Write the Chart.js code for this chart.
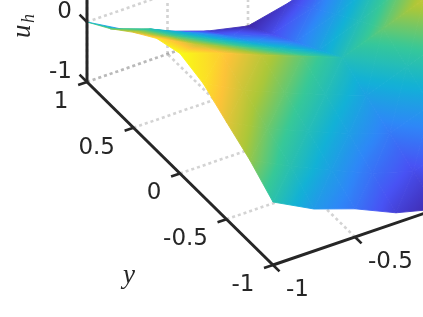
<!DOCTYPE html>
<html><head><meta charset="utf-8">
<style>html,body{margin:0;padding:0;background:#fff}canvas{display:block}</style>
<script src="https://cdn.jsdelivr.net/npm/chart.js@4/dist/chart.umd.js"></script>
</head><body><canvas id="c" width="423" height="317"></canvas>
<script>
const xNodes = [-1,-0.75,-0.5,-0.25,0,0.25,0.5,0.75,1];
const yNodes = [1,0.75,0.5,0.25,0,-0.25,-0.5,-0.75,-1];
const zY1   = [0,-0.37,-0.62,-0.85,-1,-0.85,-0.62,-0.37,0];
const zY075 = [0.27,0.03,-0.27,-0.55,-0.75,-0.55,-0.27,0.03,0.27];
const zY05  = [0.59,0.28,0,-0.27,-0.5,-0.27,0,0.28,0.59];
const zY025 = [0.87,0.53,0.26,0,-0.25,0,0.26,0.53,0.87];
const zY0   = [1,0.77,0.5,0.25,0,0.25,0.5,0.77,1];
const zYm025= [0.88,0.53,0.26,0,-0.25,0,0.26,0.53,0.88];
const zYm05 = [0.62,0.28,0,-0.27,-0.5,-0.27,0,0.28,0.62];
const zYm075= [0.37,0.03,-0.27,-0.55,-0.75,-0.55,-0.27,0.03,0.37];
const zYm1  = [0.05,-0.3,-0.53,-0.83,-1,-0.85,-0.6,-0.35,0];
const zRows = [zY1,zY075,zY05,zY025,zY0,zYm025,zYm05,zYm075,zYm1];
const xTicks = [-1,-0.5,0,0.5,1];
const yTicks = [-1,-0.5,0,0.5,1];
const zTicks = [-1,0,1];
const xTickLabels = ['-1','-0.5'];
const yTickLabels = ['-1','-0.5','0','0.5','1'];
const zTickLabels = ['-1','0'];
const palette = [[62,38,168],[72,82,244],[46,135,247],[18,177,214],[55,200,151],[171,199,56],[254,195,56],[249,251,21]];

// Orthographic-like 3D view mapped to the plot-space scales
function project(x,y,z){
  const dx=x+1, dy=y+1, dz=z+1;
  return {x:273+dx*(164-1.5*dy)-93*dy, y:265-56*dx-91.5*dy-60*dz};
}
function cmap(z){
  const t=Math.max(0,Math.min(1,(z+1)/2))*(palette.length-1);
  const i=Math.min(palette.length-2,Math.floor(t)), f=t-i;
  const c=palette[i].map((v,k)=>Math.round(v+(palette[i+1][k]-v)*f));
  return `rgb(${c[0]},${c[1]},${c[2]})`;
}
function triPaint(tri){
  let cache=null;
  return (ctx)=>{
    if(cache) return cache;
    const chart=ctx.chart, sx=chart.scales.x, sy=chart.scales.y;
    const fallback=cmap(tri[0].z);
    if(!sx||!sy||!chart.chartArea) return fallback;
    const p=tri.map(v=>{const q=project(v.x,v.y,v.z);return {px:sx.getPixelForValue(q.x),py:sy.getPixelForValue(q.y),z:v.z};});
    if(!p.every(q=>Number.isFinite(q.px)&&Number.isFinite(q.py))) return fallback;
    const ux=p[1].px-p[0].px, uy=p[1].py-p[0].py, vx=p[2].px-p[0].px, vy=p[2].py-p[0].py;
    const dz1=p[1].z-p[0].z, dz2=p[2].z-p[0].z, det=ux*vy-uy*vx;
    const lo=p.reduce((a,b)=>b.z<a.z?b:a), hi=p.reduce((a,b)=>b.z>a.z?b:a);
    if(Math.abs(det)<1e-6 || hi.z-lo.z<1e-6){cache=cmap((lo.z+hi.z)/2);return cache;}
    const a=(dz1*vy-dz2*uy)/det, b=(ux*dz2-vx*dz1)/det, n=a*a+b*b, range=hi.z-lo.z;
    const g=chart.ctx.createLinearGradient(lo.px,lo.py,lo.px+a*range/n,lo.py+b*range/n);
    for(let k=0;k<=12;k++) g.addColorStop(k/12,cmap(lo.z+range*k/12));
    cache=g;return g;
  };
}
const datasets=[];
function poly(pts,opts){datasets.push(Object.assign({data:pts.map(p=>project(p[0],p[1],p[2])),showLine:true,pointRadius:0,tension:0,fill:false,borderCapStyle:'butt'},opts));}
const GRID={borderColor:'rgba(150,150,150,0.42)',borderWidth:2.6,borderDash:[3,3],order:2000};
const bottom=-1;
// floor and back-wall grid lines
yTicks.slice(1).forEach(y=>poly([[-1,y,bottom],[1,y,bottom]],GRID));
xTicks.slice(1).forEach(x=>poly([[x,-1,bottom],[x,1,bottom]],GRID));
xTicks.forEach(x=>poly([[x,1,bottom],[x,1,1]],Object.assign({},GRID,{order:2001})));
zTicks.forEach(z=>poly([[-1,1,z],[1,1,z]],Object.assign({},GRID,{order:2001})));
// surface
for(let r=0;r<yNodes.length-1;r++)for(let c=0;c<xNodes.length-1;c++){
  const v=(i,j)=>({x:xNodes[j],y:yNodes[i],z:zRows[i][j]});
  const a=v(r,c),b=v(r,c+1),d=v(r+1,c),e=v(r+1,c+1);
  [[a,b,d],[b,e,d]].forEach(t=>{
    const paint=triPaint(t);
    const depth=t.reduce((s,q)=>s+q.x+q.y,0)/3;
    poly([...t,t[0]].map(q=>[q.x,q.y,q.z]),{fill:'shape',backgroundColor:paint,borderColor:paint,borderWidth:0.9,order:500+Math.round(depth*100)});
  });
}
// axes
const AX={borderColor:'#262626',borderWidth:3,order:1};
const TK={borderColor:'#262626',borderWidth:2.6,order:1};
poly([[-1,1,-1],[-1,1,1]],AX);
poly([[-1,1,-1],[-1,-1,-1]],AX);
poly([[-1,-1,-1],[1,-1,-1]],AX);
yTicks.forEach(y=>poly([[-1,y,-1],[-1.055,y,-1]],TK));
xTicks.forEach(x=>poly([[x,-1,-1],[x,-1.07,-1]],TK));
zTicks.forEach(z=>poly([[-1,1,z],[-1,1.08,z]],TK));

const textPlugin={id:'axisText',afterDraw(chart){
  const c=chart.ctx,sx=chart.scales.x,sy=chart.scales.y;
  const at=(x,y,z)=>{const q=project(x,y,z);return [sx.getPixelForValue(q.x),sy.getPixelForValue(q.y)];};
  c.save();
  c.fillStyle='#262626';c.font='23px "DejaVu Sans"';c.textBaseline='middle';
  c.textAlign='right';
  yTickLabels.forEach(s=>{const [a,b]=at(-1,+s,-1);c.fillText(s,a-18.5,b+20);});
  zTickLabels.forEach(s=>{const [a,b]=at(-1,1,+s);c.fillText(s,a-15,b-10);});
  c.textAlign='left';
  xTickLabels.forEach(s=>{const [a,b]=at(+s,-1,-1);c.fillText(s,a+13,b+25);});
  c.textBaseline='alphabetic';
  c.font='italic 27px "Liberation Serif"';
  c.fillText('y',123,283);
  c.translate(30,38);c.rotate(-Math.PI/2);
  c.font='italic 27px "Liberation Serif"';c.fillText('u',0,0);
  c.font='italic 18px "Liberation Serif"';c.fillText('h',15,4);
  c.restore();
}};
new Chart(document.getElementById('c'),{
  type:'scatter',
  data:{datasets},
  plugins:[textPlugin],
  options:{responsive:false,animation:false,events:[],layout:{padding:0},
    plugins:{legend:{display:false},tooltip:{enabled:false}},
    scales:{x:{type:'linear',min:0,max:423,display:false},y:{type:'linear',min:0,max:317,reverse:true,display:false}}}
});
</script></body></html>
